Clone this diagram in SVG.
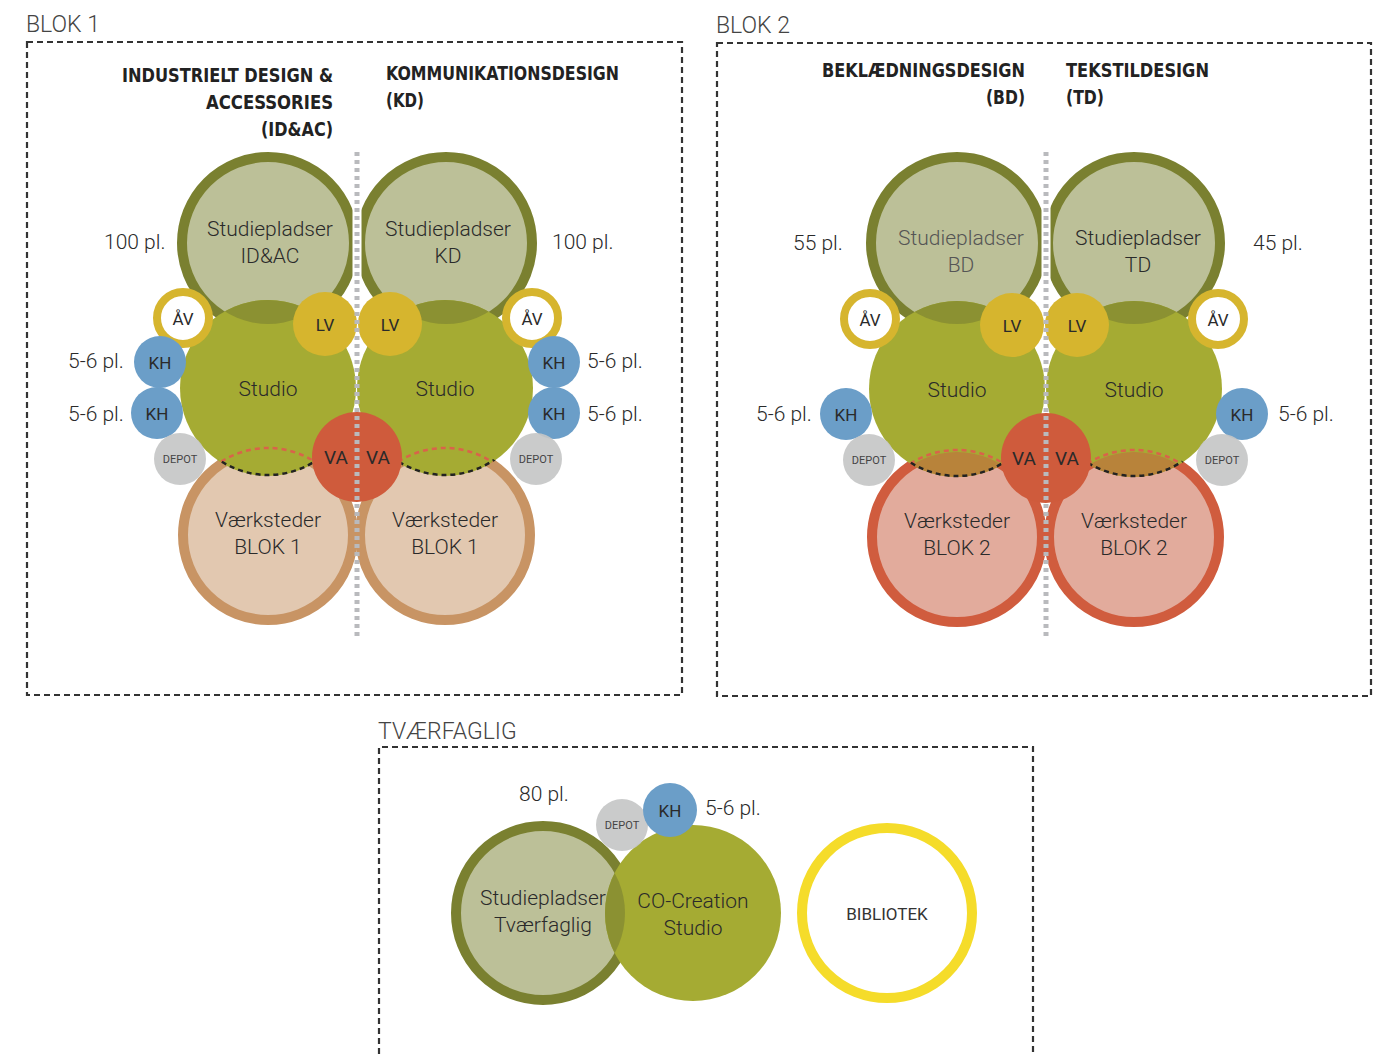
<svg xmlns="http://www.w3.org/2000/svg" width="1382" height="1054" viewBox="0 0 1382 1054">
  <style>
    .frame{fill:none;stroke:#333;stroke-width:2.2;stroke-dasharray:6 4}
    .blk{font-family:Roboto,"Liberation Sans",sans-serif;font-weight:300;font-size:23px;fill:#444}
    .head{font-family:"DejaVu Sans",sans-serif;font-stretch:condensed;font-weight:bold;font-size:19px;fill:#222}
    .lbl{font-family:Roboto,"Liberation Sans",sans-serif;font-weight:300;font-size:21px;fill:#2a2a2a}
    .ctr{text-anchor:middle}
    .small{font-family:Roboto,"Liberation Sans",sans-serif;font-size:17px;fill:#2a2a2a;text-anchor:middle}
    .dep{font-family:Roboto,"Liberation Sans",sans-serif;font-size:11px;fill:#444;text-anchor:middle}
    .seat{fill:#bcc098;stroke:#7a8030;stroke-width:10}
    .studio{fill:#a5ab33}
    .lensA{fill:#8b9132}
    .ws1{fill:#e2c8b0;stroke:#c89464;stroke-width:10}
    .ws2{fill:#e2ab9c;stroke:#d05c3e;stroke-width:10}
    .lensB{fill:#b8833a}
    .va{fill:#cf5b3c}
    .lv{fill:#d6b52e}
    .av{fill:#fff;stroke:#d6b52e;stroke-width:8}
    .kh{fill:#6b9ec8}
    .depot{fill:#c6c7c7;opacity:.92}
    .redd{fill:none;stroke:#d9634a;stroke-width:2.5;stroke-dasharray:5 4}
    .blkd{fill:none;stroke:#222;stroke-width:2.5;stroke-dasharray:5 4}
    .under{stroke:#fff;stroke-width:9}
    .divider{stroke:#b9babd;stroke-width:5;stroke-dasharray:4 4}
  </style>
  <defs>
    <clipPath id="cS1L"><circle cx="268" cy="388" r="88"/></clipPath>
    <clipPath id="cS1R"><circle cx="445" cy="388" r="88"/></clipPath>
    <clipPath id="cW1L"><circle cx="268" cy="535" r="90"/></clipPath>
    <clipPath id="cW1R"><circle cx="445" cy="535" r="90"/></clipPath>
    <clipPath id="cS2L"><circle cx="957" cy="389" r="88"/></clipPath>
    <clipPath id="cS2R"><circle cx="1134" cy="389" r="88"/></clipPath>
    <clipPath id="cW2L"><circle cx="957" cy="537" r="90"/></clipPath>
    <clipPath id="cW2R"><circle cx="1134" cy="537" r="90"/></clipPath>
    <clipPath id="cCo"><circle cx="693" cy="913" r="88"/></clipPath>
  </defs>

  <!-- ===== BLOK 1 ===== -->
  <g id="blok1">
    <text class="blk" x="26" y="32">BLOK 1</text>
    <rect class="frame" x="27" y="42" width="655" height="653"/>
    <text class="head" text-anchor="end" x="333" y="82" textLength="211" lengthAdjust="spacingAndGlyphs">INDUSTRIELT DESIGN &amp;</text>
    <text class="head" text-anchor="end" x="333" y="109" textLength="127" lengthAdjust="spacingAndGlyphs">ACCESSORIES</text>
    <text class="head" text-anchor="end" x="333" y="136" textLength="72" lengthAdjust="spacingAndGlyphs">(ID&amp;AC)</text>
    <text class="head" x="386" y="80" textLength="233" lengthAdjust="spacingAndGlyphs">KOMMUNIKATIONSDESIGN</text>
    <text class="head" x="386" y="107" textLength="38" lengthAdjust="spacingAndGlyphs">(KD)</text>
  </g>

  <g id="seats-idac"><circle class="seat" cx="268" cy="243" r="86"/></g>
  <g id="seats-kd"><circle class="seat" cx="446" cy="243" r="86"/></g>
  <g id="ws1-left"><circle class="ws1" cx="268" cy="535" r="85"/></g>
  <g id="ws1-right"><circle class="ws1" cx="445" cy="535" r="85"/></g>
  <g id="studio1-left">
    <circle class="studio" cx="268" cy="388" r="88"/>
    <circle class="lensA" cx="268" cy="243" r="81" clip-path="url(#cS1L)"/>
  </g>
  <g id="studio1-right">
    <circle class="studio" cx="445" cy="388" r="88"/>
    <circle class="lensA" cx="446" cy="243" r="81" clip-path="url(#cS1R)"/>
  </g>
  <g id="overlap1">
    <circle class="redd" cx="268" cy="535" r="87" clip-path="url(#cS1L)"/>
    <circle class="redd" cx="445" cy="535" r="87" clip-path="url(#cS1R)"/>
    <circle class="blkd" cx="268" cy="388" r="87" clip-path="url(#cW1L)"/>
    <circle class="blkd" cx="445" cy="388" r="87" clip-path="url(#cW1R)"/>
  </g>
  <line class="under" x1="357" y1="150" x2="357" y2="305"/>

  <g id="av1-left"><circle class="av" cx="183" cy="318" r="26"/><text class="small" x="183" y="325">ÅV</text></g>
  <g id="av1-right"><circle class="av" cx="532" cy="318" r="26"/><text class="small" x="532" y="325">ÅV</text></g>
  <g id="kh1-l1"><circle class="kh" cx="160" cy="362" r="26"/><text class="small" x="160" y="369">KH</text></g>
  <g id="kh1-l2"><circle class="kh" cx="157" cy="413" r="26"/><text class="small" x="157" y="420">KH</text></g>
  <g id="kh1-r1"><circle class="kh" cx="554" cy="362" r="26"/><text class="small" x="554" y="369">KH</text></g>
  <g id="kh1-r2"><circle class="kh" cx="554" cy="413" r="26"/><text class="small" x="554" y="420">KH</text></g>
  <g id="depot1-left"><circle class="depot" cx="180" cy="459" r="26"/><text class="dep" x="180" y="463">DEPOT</text></g>
  <g id="depot1-right"><circle class="depot" cx="536" cy="459" r="26"/><text class="dep" x="536" y="463">DEPOT</text></g>
  <g id="lv1-left"><circle class="lv" cx="325" cy="324" r="32"/><text class="small" x="325" y="331">LV</text></g>
  <g id="lv1-right"><circle class="lv" cx="390" cy="324" r="32"/><text class="small" x="390" y="331">LV</text></g>
  <g id="va1"><circle class="va" cx="357" cy="457" r="45"/></g>
  <line class="divider" x1="357" y1="152" x2="357" y2="638"/>
  <g id="va1-labels">
    <text class="small" style="font-size:19px" x="336" y="464">VA</text>
    <text class="small" style="font-size:19px" x="378" y="464">VA</text>
  </g>

  <g id="labels1">
    <text class="lbl ctr" x="270" y="236">Studiepladser</text>
    <text class="lbl ctr" x="270" y="263">ID&amp;AC</text>
    <text class="lbl ctr" x="448" y="236">Studiepladser</text>
    <text class="lbl ctr" x="448" y="263">KD</text>
    <text class="lbl ctr" x="268" y="396">Studio</text>
    <text class="lbl ctr" x="445" y="396">Studio</text>
    <text class="lbl ctr" x="268" y="527">Værksteder</text>
    <text class="lbl ctr" x="268" y="554">BLOK 1</text>
    <text class="lbl ctr" x="445" y="527">Værksteder</text>
    <text class="lbl ctr" x="445" y="554">BLOK 1</text>
    <text class="lbl" x="104" y="249">100 pl.</text>
    <text class="lbl" x="552" y="249">100 pl.</text>
    <text class="lbl" x="68" y="368">5-6 pl.</text>
    <text class="lbl" x="68" y="421">5-6 pl.</text>
    <text class="lbl" x="587" y="368">5-6 pl.</text>
    <text class="lbl" x="587" y="421">5-6 pl.</text>
  </g>

  <!-- ===== BLOK 2 ===== -->
  <g id="blok2">
    <text class="blk" x="716" y="33">BLOK 2</text>
    <rect class="frame" x="717" y="43" width="654" height="653"/>
    <text class="head" text-anchor="end" x="1025" y="77" textLength="203" lengthAdjust="spacingAndGlyphs">BEKLÆDNINGSDESIGN</text>
    <text class="head" text-anchor="end" x="1025" y="104" textLength="39" lengthAdjust="spacingAndGlyphs">(BD)</text>
    <text class="head" x="1066" y="77" textLength="143" lengthAdjust="spacingAndGlyphs">TEKSTILDESIGN</text>
    <text class="head" x="1066" y="104" textLength="38" lengthAdjust="spacingAndGlyphs">(TD)</text>
  </g>

  <g id="seats-bd"><circle class="seat" cx="957" cy="243" r="86"/></g>
  <g id="seats-td"><circle class="seat" cx="1134" cy="243" r="86"/></g>
  <g id="ws2-left"><circle class="ws2" cx="957" cy="537" r="85"/></g>
  <g id="ws2-right"><circle class="ws2" cx="1134" cy="537" r="85"/></g>
  <g id="studio2-left">
    <circle class="studio" cx="957" cy="389" r="88"/>
    <circle class="lensA" cx="957" cy="243" r="81" clip-path="url(#cS2L)"/>
    <circle class="lensB" cx="957" cy="537" r="85" clip-path="url(#cS2L)"/>
  </g>
  <g id="studio2-right">
    <circle class="studio" cx="1134" cy="389" r="88"/>
    <circle class="lensA" cx="1134" cy="243" r="81" clip-path="url(#cS2R)"/>
    <circle class="lensB" cx="1134" cy="537" r="85" clip-path="url(#cS2R)"/>
  </g>
  <g id="overlap2">
    <circle class="redd" cx="957" cy="537" r="87" clip-path="url(#cS2L)"/>
    <circle class="redd" cx="1134" cy="537" r="87" clip-path="url(#cS2R)"/>
    <circle class="blkd" cx="957" cy="389" r="87" clip-path="url(#cW2L)"/>
    <circle class="blkd" cx="1134" cy="389" r="87" clip-path="url(#cW2R)"/>
  </g>
  <line class="under" x1="1046" y1="150" x2="1046" y2="305"/>

  <g id="av2-left"><circle class="av" cx="870" cy="319" r="26"/><text class="small" x="870" y="326">ÅV</text></g>
  <g id="av2-right"><circle class="av" cx="1218" cy="319" r="26"/><text class="small" x="1218" y="326">ÅV</text></g>
  <g id="kh2-left"><circle class="kh" cx="846" cy="414" r="26"/><text class="small" x="846" y="421">KH</text></g>
  <g id="kh2-right"><circle class="kh" cx="1242" cy="414" r="26"/><text class="small" x="1242" y="421">KH</text></g>
  <g id="depot2-left"><circle class="depot" cx="869" cy="460" r="26"/><text class="dep" x="869" y="464">DEPOT</text></g>
  <g id="depot2-right"><circle class="depot" cx="1222" cy="460" r="26"/><text class="dep" x="1222" y="464">DEPOT</text></g>
  <g id="lv2-left"><circle class="lv" cx="1012" cy="325" r="32"/><text class="small" x="1012" y="332">LV</text></g>
  <g id="lv2-right"><circle class="lv" cx="1077" cy="325" r="32"/><text class="small" x="1077" y="332">LV</text></g>
  <g id="va2"><circle class="va" cx="1046" cy="458" r="45"/></g>
  <line class="divider" x1="1046" y1="152" x2="1046" y2="638"/>
  <g id="va2-labels">
    <text class="small" style="font-size:19px" x="1024" y="465">VA</text>
    <text class="small" style="font-size:19px" x="1067" y="465">VA</text>
  </g>

  <g id="labels2">
    <text class="lbl ctr" style="fill:#555" x="961" y="245">Studiepladser</text>
    <text class="lbl ctr" style="fill:#555" x="961" y="272">BD</text>
    <text class="lbl ctr" x="1138" y="245">Studiepladser</text>
    <text class="lbl ctr" x="1138" y="272">TD</text>
    <text class="lbl ctr" x="957" y="397">Studio</text>
    <text class="lbl ctr" x="1134" y="397">Studio</text>
    <text class="lbl ctr" x="957" y="528">Værksteder</text>
    <text class="lbl ctr" x="957" y="555">BLOK 2</text>
    <text class="lbl ctr" x="1134" y="528">Værksteder</text>
    <text class="lbl ctr" x="1134" y="555">BLOK 2</text>
    <text class="lbl" x="793" y="250">55 pl.</text>
    <text class="lbl" x="1253" y="250">45 pl.</text>
    <text class="lbl" x="756" y="421">5-6 pl.</text>
    <text class="lbl" x="1278" y="421">5-6 pl.</text>
  </g>

  <!-- ===== TVÆRFAGLIG ===== -->
  <g id="tvaerfaglig">
    <text class="blk" x="378" y="739">TVÆRFAGLIG</text>
    <path class="frame" d="M379 1054 V747 H1033 V1054"/>
  </g>
  <g id="seats-tvaer"><circle class="seat" cx="543" cy="913" r="87"/></g>
  <g id="cocreation">
    <circle class="studio" cx="693" cy="913" r="88"/>
    <circle class="lensA" cx="543" cy="913" r="82" clip-path="url(#cCo)"/>
  </g>
  <g id="depot3"><circle class="depot" cx="622" cy="825" r="26"/><text class="dep" x="622" y="829">DEPOT</text></g>
  <g id="kh3"><circle class="kh" cx="670" cy="810" r="27"/><text class="small" x="670" y="817">KH</text></g>
  <g id="bibliotek">
    <circle cx="887" cy="913" r="85" fill="#fff" stroke="#f5dc2a" stroke-width="10"/>
    <text class="ctr" style="font-family:Roboto,'Liberation Sans',sans-serif;font-size:17px;fill:#333" x="887" y="920">BIBLIOTEK</text>
  </g>
  <g id="labels3">
    <text class="lbl ctr" x="543" y="905">Studiepladser</text>
    <text class="lbl ctr" x="543" y="932">Tværfaglig</text>
    <text class="lbl ctr" x="693" y="908">CO-Creation</text>
    <text class="lbl ctr" x="693" y="935">Studio</text>
    <text class="lbl" x="519" y="801">80 pl.</text>
    <text class="lbl" x="705" y="815">5-6 pl.</text>
  </g>
</svg>
